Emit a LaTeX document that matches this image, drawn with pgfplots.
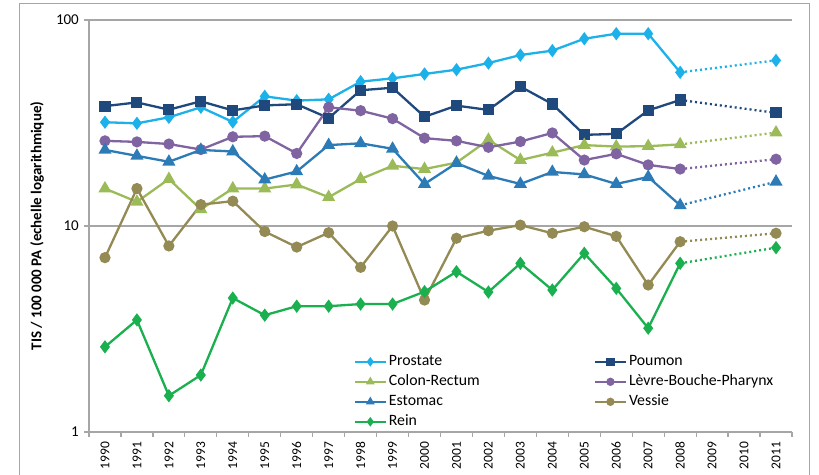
\documentclass[border=0pt]{standalone}
\usepackage{pgfplots}
\pgfplotsset{compat=1.18}
\usepackage{pgfplotstable}
\usepackage{fontspec}
\setmainfont{Carlito}

\definecolor{cprostate}{HTML}{1DB1EA}
\definecolor{cpoumon}{HTML}{1F497D}
\definecolor{ccolon}{HTML}{9BBB59}
\definecolor{clevre}{HTML}{8064A2}
\definecolor{cestomac}{HTML}{2C7BB6}
\definecolor{cvessie}{HTML}{948A54}
\definecolor{crein}{HTML}{1BB04F}
\definecolor{caxe}{HTML}{A6A6A6}

% annees 1990-2008 (observe)
\pgfplotstableread{
an   prostate poumon colon levre estomac vessie rein
1990 31.9 38.2 15.2  25.9 23.4 7.02 2.59
1991 31.5 39.8 13.1  25.6 21.9 15.2 3.50
1992 33.7 36.7 16.9  25.0 20.5 8.0  1.50
1993 37.7 40.3 12.05 23.5 23.4 12.7 1.89
1994 32.0 36.4 15.2  27.1 23.0 13.2 4.47
1995 42.6 38.5 15.2  27.3 16.8 9.4  3.69
1996 40.6 39.0 15.9  22.5 18.4 7.9  4.08
1997 41.2 33.4 13.8  37.7 24.7 9.28 4.08
1998 50.2 45.6 16.9  36.3 25.2 6.3  4.18
1999 52.1 46.9 19.6  33.2 23.7 10.0 4.18
2000 54.7 33.9 18.9  26.7 16.0 4.37 4.80
2001 57.4 38.4 20.3  25.9 20.2 8.72 6.00
2002 61.8 36.6 26.2  24.1 17.5 9.49 4.78
2003 67.6 47.5 20.9  25.7 16.0 10.1 6.59
2004 71.0 39.1 22.7  28.3 18.3 9.22 4.89
2005 81.1 27.7 24.7  20.9 17.8 9.92 7.37
2006 85.8 28.0 24.3  22.4 16.0 8.91 4.98
2007 85.8 36.4 24.4  19.8 17.3 5.17 3.19
2008 55.7 40.9 24.9  18.9 12.6 8.39 6.59
}\obs

% projection 2011
\pgfplotstableread{
an   prostate poumon colon levre estomac vessie rein
2008 55.7 40.9 24.9  18.9 12.6 8.39 6.59
2011 63.7 35.4 28.4  21.1 16.4 9.22 7.85
}\proj

\begin{document}
\fontsize{15}{18}\selectfont
\begin{tikzpicture}
  % cadre gris autour du graphique
  \draw[caxe, line width=1pt] (19pt,-20pt) -- (19pt,470pt) -- (809pt,470pt) -- (809pt,-20pt);

  \begin{axis}[
    at={(89pt,42pt)}, anchor=south west,
    scale only axis, width=703pt, height=412pt,
    ymode=log, ymin=1, ymax=100,
    xmin=1989.5, xmax=2011.5,
    axis lines*=left,
    axis line style={caxe, line width=1.2pt},
    ytick={1,10,100}, yticklabels={1,10,100},
    yminorticks=false,
    ymajorgrids, grid style={caxe, line width=1.2pt},
    xtick={1990,...,2011},
    xticklabels={1990,1991,1992,1993,1994,1995,1996,1997,1998,1999,2000,%
      2001,2002,2003,2004,2005,2006,2007,2008,2009,2010,2011},
    xticklabel style={rotate=90, anchor=east, font=\fontsize{13.5}{16}\selectfont},
    yticklabel style={font=\fontsize{15}{18}\selectfont},
    minor xtick={1989.5,1990.5,...,2011.5},
    major x tick style={draw=none},
    tick align=outside,
    major tick length=5pt, minor tick length=5pt,
    tick style={caxe, line width=1.2pt},
    every tick/.style={caxe, line width=1.2pt},
    ylabel={\bfseries TIS / 100 000 PA (echelle logarithmique)},
    ylabel style={at={(axis description cs:-0.074,0.5)}, anchor=center,
      font=\fontsize{15}{18}\selectfont},
    every axis plot/.append style={line width=2.3pt},
    legend columns=2,
    legend cell align=left,
    legend style={at={(axis description cs:0.372,0.2)}, anchor=north west,
      draw=none, fill=none, font=\fontsize{15.8}{18}\selectfont,
      row sep=0pt,
      nodes={inner ysep=2pt, text height=12pt, text depth=4pt},
      /tikz/every even column/.append style={column sep=112pt}},
    legend image code/.code={%
      \draw[mark repeat=2, mark phase=2, #1, line width=2.2pt, mark size=3pt]
        plot coordinates {(0pt,0pt) (15.5pt,0pt) (31pt,0pt)};},
  ]
    \addplot[cprostate, mark=diamond*, mark size=4.8pt] table[x=an, y=prostate] {\obs};
    \addlegendentry{Prostate}
    \addplot[cpoumon, mark=square*, mark size=4.4pt] table[x=an, y=poumon] {\obs};
    \addlegendentry{Poumon}
    \addplot[ccolon, mark=triangle*, mark size=5.3pt] table[x=an, y=colon] {\obs};
    \addlegendentry{Colon-Rectum}
    \addplot[clevre, mark=*, mark size=4.4pt] table[x=an, y=levre] {\obs};
    \addlegendentry{Lèvre-Bouche-Pharynx}
    \addplot[cestomac, mark=triangle*, mark size=5.3pt] table[x=an, y=estomac] {\obs};
    \addlegendentry{Estomac}
    \addplot[cvessie, mark=*, mark size=4.4pt] table[x=an, y=vessie] {\obs};
    \addlegendentry{Vessie}
    \addplot[crein, mark=diamond*, mark size=4.8pt] table[x=an, y=rein] {\obs};
    \addlegendentry{Rein}

    % segments pointilles 2008-2011
    \addplot[forget plot, cprostate, dash pattern=on 2pt off 3pt, mark=diamond*, mark size=4.8pt, mark options={solid}, mark indices={2}] table[x=an, y=prostate] {\proj};
    \addplot[forget plot, cpoumon, dash pattern=on 2pt off 3pt, mark=square*, mark size=4.4pt, mark options={solid}, mark indices={2}] table[x=an, y=poumon] {\proj};
    \addplot[forget plot, ccolon, dash pattern=on 2pt off 3pt, mark=triangle*, mark size=5.3pt, mark options={solid}, mark indices={2}] table[x=an, y=colon] {\proj};
    \addplot[forget plot, clevre, dash pattern=on 2pt off 3pt, mark=*, mark size=4.4pt, mark options={solid}, mark indices={2}] table[x=an, y=levre] {\proj};
    \addplot[forget plot, cestomac, dash pattern=on 2pt off 3pt, mark=triangle*, mark size=5.3pt, mark options={solid}, mark indices={2}] table[x=an, y=estomac] {\proj};
    \addplot[forget plot, cvessie, dash pattern=on 2pt off 3pt, mark=*, mark size=4.4pt, mark options={solid}, mark indices={2}] table[x=an, y=vessie] {\proj};
    \addplot[forget plot, crein, dash pattern=on 2pt off 3pt, mark=diamond*, mark size=4.8pt, mark options={solid}, mark indices={2}] table[x=an, y=rein] {\proj};
  \end{axis}

  \pgfresetboundingbox
  \useasboundingbox (0pt,0pt) rectangle (819pt,474pt);
\end{tikzpicture}
\end{document}
